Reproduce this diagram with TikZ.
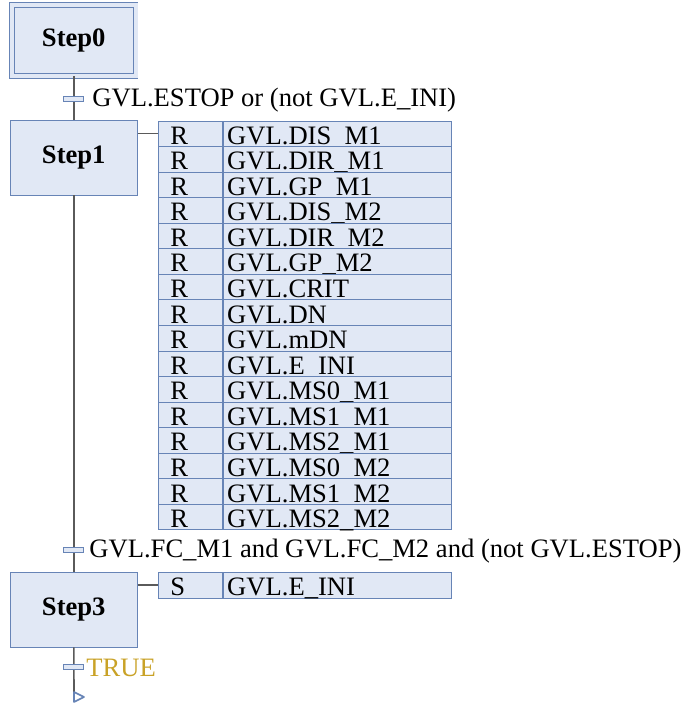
\documentclass[tikz,border=0pt]{standalone}
\usepackage{fontspec}
\setmainfont{Liberation Serif}
\definecolor{sfcfill}{HTML}{E1E8F5}
\definecolor{sfcline}{HTML}{6784B6}
\definecolor{sfcwire}{HTML}{5A5A5A}
\definecolor{sfctrue}{HTML}{C9A227}
\begin{document}
\begin{tikzpicture}[
  x=0.5pt, y=-0.5pt,
  font=\fontsize{13.3}{15}\selectfont,
  stepbox/.style={draw=sfcline, fill=sfcfill, font=\fontsize{13.3}{15}\selectfont\bfseries, minimum width=63.75pt, minimum height=37.5pt, inner sep=0pt},
  initbox/.style={stepbox, double=sfcfill, double distance=2pt, minimum width=61.75pt, minimum height=35.5pt},
  trans/.style={draw=sfcline, fill=sfcfill, minimum width=10pt, minimum height=2.5pt, inner sep=0pt},
  cond/.style={anchor=west, inner sep=0pt},
  qual/.style={draw=sfcline, fill=sfcfill, anchor=north west, minimum height=12.78pt, inner ysep=0pt, inner xsep=6pt, text width=20pt, text height=10.5pt, text depth=0pt, align=left},
  act/.style={draw=sfcline, fill=sfcfill, anchor=north west, minimum height=12.78pt, inner ysep=0pt, inner xsep=2pt, text width=110pt, text height=10.5pt, text depth=0pt, align=left},
  wire/.style={draw=sfcwire, thick}
]
\useasboundingbox (0,0) rectangle (685,703);

% steps
\node[initbox] (step0) at (73.75,40.5) {Step0};
\node[stepbox] (step1) at (73.75,157.5) {Step1};
\node[stepbox] (step3) at (73.75,609.5) {Step3};
\coordinate (jump) at (74,697);

% main wire and transitions
\draw[wire] (step0) -- (step1);
\draw[wire] (step1) -- (step3);
\draw[wire] (step3) -- (jump);
\node[trans] (t1) at (73.75,99) {};
\node[cond] (c1) at (92,100) {GVL.ESTOP or (not GVL.E\_INI)};
\node[trans] (t2) at (73.75,550) {};
\node[cond] (c2) at (89,551) {GVL.FC\_M1 and GVL.FC\_M2 and (not GVL.ESTOP)};
\node[trans] (t3) at (73.75,667) {};
\node[cond, text=sfctrue] (c3) at (86,668) {TRUE};
\draw[sfcline, thick, line join=round] (jump) -- ++(0,-5) -- ++(10,5) -- ++(-10,5) -- cycle;

% actions of Step1
\foreach \q/\v [count=\i] in {R/DIS\_M1, R/DIR\_M1, R/GP\_M1, R/DIS\_M2, R/DIR\_M2, R/GP\_M2,
    R/CRIT, R/DN, R/mDN, R/E\_INI, R/MS0\_M1, R/MS1\_M1, R/MS2\_M1, R/MS0\_M2, R/MS1\_M2, R/MS2\_M2} {
  \node[qual] (q\i) at (158,{120.5+25.56*(\i-1)}) {\q};
  \node[act] (a\i) at (q\i.north east) {GVL.\v};
}
\draw[wire] (step1.east |- q1) -- (q1.west);

% actions of Step3
\node[qual] (s1) at (158,572) {S};
\node[act] (e1) at (s1.north east) {GVL.E\_INI};
\draw[wire] (step3.east |- s1) -- (s1.west);
\end{tikzpicture}
\end{document}
